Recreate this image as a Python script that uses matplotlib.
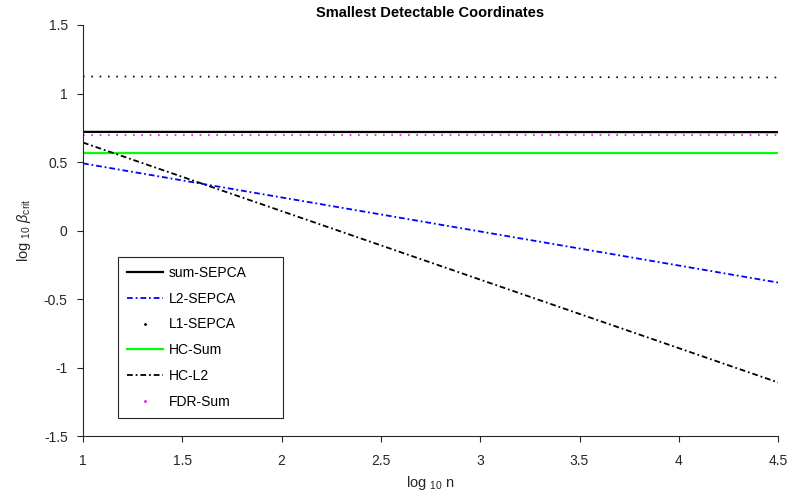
import numpy as np
import matplotlib.pyplot as plt
from matplotlib.lines import Line2D

plt.rcParams['font.family'] = ['Liberation Sans', 'DejaVu Sans']
plt.rcParams['mathtext.fontset'] = 'custom'
plt.rcParams['mathtext.rm'] = 'Liberation Sans'
plt.rcParams['mathtext.it'] = 'Liberation Sans:italic'

# log10 n end points
log_n = [1.0, 4.5]

# log10 beta_crit
sum_sepca = [0.720, 0.718]
l2_sepca  = [0.490, -0.380]
l1_sepca  = [1.124, 1.117]
hc_sum    = [0.569, 0.569]
hc_l2     = [0.642, -1.109]
fdr_sum   = [0.700, 0.700]

ax_col = '#262626'
dashdot = (0, (3.2, 1.6, 1.0, 1.6))
dots = (0, (1, 4.0))

fig = plt.figure(figsize=(7.9, 4.97), dpi=100)
ax = fig.add_axes([0.105, 0.1227, 0.880, 0.8270])

ax.plot(log_n, sum_sepca, color='k', lw=1.6, ls='-')
ax.plot(log_n, l2_sepca, color='#0000ff', lw=1.3, ls=dashdot)
ax.plot(log_n, l1_sepca, color='k', lw=1.2, ls=dots)
ax.plot(log_n, hc_sum, color='#00ff00', lw=1.6, ls='-')
ax.plot(log_n, hc_l2, color='k', lw=1.3, ls=dashdot)
ax.plot(log_n, fdr_sum, color='#ff00ff', lw=1.2, ls=dots)

# legend entries as drawn in the original (dotted series show as single dots)
handles = [
    Line2D([], [], color='k', lw=1.6, ls='-'),
    Line2D([], [], color='#0000ff', lw=1.3, ls=dashdot),
    Line2D([], [], color='k', ls='none', marker='.', ms=2),
    Line2D([], [], color='#00ff00', lw=1.6, ls='-'),
    Line2D([], [], color='k', lw=1.3, ls=dashdot),
    Line2D([], [], color='#ff00ff', ls='none', marker='.', ms=2),
]
labels = ['sum-SEPCA', 'L2-SEPCA', 'L1-SEPCA', 'HC-Sum', 'HC-L2', 'FDR-Sum']
leg = ax.legend(handles, labels, loc='lower left', bbox_to_anchor=(0.05, 0.044, 0.2374, 0.3),
                mode='expand', borderaxespad=0, fontsize=10, handlelength=2.6,
                handletextpad=0.45, labelspacing=0.85, borderpad=0.65,
                fancybox=False, framealpha=1)
leg.get_frame().set_edgecolor(ax_col)
leg.get_frame().set_linewidth(0.8)

ax.set_xlim(1, 4.5)
ax.set_ylim(-1.5, 1.5)
ax.set_xticks([1, 1.5, 2, 2.5, 3, 3.5, 4, 4.5])
ax.set_xticklabels(['1', '1.5', '2', '2.5', '3', '3.5', '4', '4.5'])
ax.set_yticks([-1.5, -1, -0.5, 0, 0.5, 1, 1.5])
ax.set_yticklabels(['-1.5', '-1', '-0.5', '0', '0.5', '1', '1.5'])

for side in ['top', 'right']:
    ax.spines[side].set_visible(False)
for side in ['left', 'bottom']:
    ax.spines[side].set_color(ax_col)
    ax.spines[side].set_linewidth(0.8)
ax.tick_params(direction='out', length=4, width=0.8, colors=ax_col, labelsize=10)
ax.tick_params(axis='x', pad=9)
ax.tick_params(axis='y', pad=7)

ax.set_xlabel(r'log $_{\rm 10}$ n', fontsize=10.5, color=ax_col, labelpad=4)
ax.set_ylabel(r'log $_{\rm 10}$ $\mathit{\beta}_{\rm crit}$', fontsize=10.5, color=ax_col, labelpad=8)
ax.set_title('Smallest Detectable Coordinates', fontsize=10.5, fontweight='bold', pad=6)

fig.savefig('out.png', dpi=100)
